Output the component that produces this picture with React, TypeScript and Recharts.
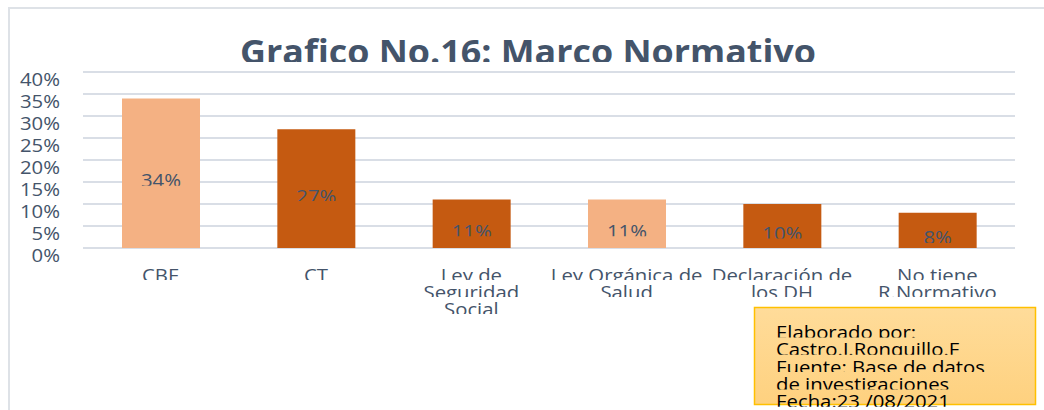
import React, { useId } from "react";
import { BarChart, Bar, XAxis, YAxis, CartesianGrid, Cell, LabelList } from "recharts";

const categories = [
	"CBE",
	"CT",
	"Ley de\nSeguridad\nSocial",
	"Ley Orgánica de\nSalud",
	"Declaración de\nlos DH",
	"No tiene\nR.Normativo",
];
const percentages = [34, 27, 11, 11, 10, 8];
const yTicks = [0, 5, 10, 15, 20, 25, 30, 35, 40];
const titleText = "Grafico No.16: Marco Normativo";
const noteLines = [
	"Elaborado por:",
	"Castro.J.Ronquillo.F",
	"Fuente: Base de datos",
	"de investigaciones",
	"Fecha:23 /08/2021",
];

const LIGHT = "#F4B183";
const DARK = "#C55A11";
const barColors = [LIGHT, DARK, DARK, LIGHT, DARK, DARK];
const TEXT = "#44546A";
const FONT = "'Open Sans', sans-serif";
const STRETCH = 1.13; // source text is a bit wider than Open Sans

const data = categories.map((name, i) => ({ name, value: percentages[i] }));

// text whose lower part is cut off just above the baseline, like the source image
const ClippedText: React.FC<{
	x: number;
	y: number;
	cut: number;
	anchor?: "start" | "middle" | "end";
	size: number;
	fill: string;
	weight?: number;
	sx?: number;
	children: React.ReactNode;
}> = ({ x, y, cut, anchor = "middle", size, fill, weight = 400, sx = STRETCH, children }) => {
	const id = useId().replace(/:/g, "");
	return (
		<g clipPath={`url(#c${id})`}>
			<defs>
				<clipPath id={`c${id}`}>
					<rect x={x - 600} y={y - size * 1.5} width={1200} height={size * 1.5 - cut} />
				</clipPath>
			</defs>
			<text
				transform={`translate(${x} ${y}) scale(${sx} 1)`}
				textAnchor={anchor}
				fontSize={size}
				fontWeight={weight}
				fill={fill}
				fontFamily={FONT}
			>
				{children}
			</text>
		</g>
	);
};

const XTick = (props: any) => {
	const { x, y, payload } = props;
	const lines = String(payload.value).split("\n");
	return (
		<g>
			{lines.map((line: string, i: number) => (
				<ClippedText key={i} x={x} y={y + 34 + i * 17} cut={2} size={18} fill={TEXT}>
					{line}
				</ClippedText>
			))}
		</g>
	);
};

const YTick = (props: any) => {
	const { y, payload } = props;
	return (
		<text
			transform={`translate(60 ${y + 14}) scale(${STRETCH} 1)`}
			textAnchor="end"
			fontSize={18}
			fill={TEXT}
			fontFamily={FONT}
		>
			{`${payload.value}%`}
		</text>
	);
};

const BarValue = (props: any) => {
	const { x, y, width, height, value } = props;
	const cx = Number(x) + Number(width) / 2;
	const base = Number(y) + Number(height) / 2 + 14;
	return (
		<ClippedText x={cx} y={base} cut={1.5} size={18} fill={TEXT}>
			{`${value}%`}
		</ClippedText>
	);
};

export default function App() {
	return (
		<div style={{ position: "absolute", left: 0, top: 0, width: 1044, height: 410, background: "#fff", overflow: "hidden" }}>
			<div
				style={{
					position: "absolute",
					left: 8,
					top: 7,
					width: 1040,
					height: 410,
					borderLeft: "2px solid #DEE2E7",
					borderTop: "2px solid #DEE2E7",
				}}
			/>
			<div style={{ position: "absolute", left: 0, top: 0 }}>
				<BarChart width={1044} height={410} data={data} margin={{ top: 72, right: 29, left: 0, bottom: 0 }}>
					<CartesianGrid vertical={false} stroke="#D9DEE6" strokeWidth={2} />
					<XAxis
						dataKey="name"
						axisLine={false}
						tickLine={false}
						tickSize={0}
						tickMargin={0}
						interval={0}
						height={162}
						tick={(p: any) => <XTick {...p} />}
					/>
					<YAxis
						domain={[0, 40]}
						ticks={yTicks}
						interval={0}
						axisLine={false}
						tickLine={false}
						width={83}
						tick={(p: any) => <YTick {...p} />}
					/>
					<Bar dataKey="value" barSize={78} isAnimationActive={false}>
						{data.map((_, i) => (
							<Cell key={`cell-${i}`} fill={barColors[i]} />
						))}
						<LabelList dataKey="value" content={(p: any) => <BarValue {...p} />} />
					</Bar>
				</BarChart>
			</div>
			<svg width={1044} height={410} style={{ position: "absolute", left: 0, top: 0, pointerEvents: "none" }}>
				<defs>
					<linearGradient id="noteFill" x1="0" y1="0" x2="0" y2="1">
						<stop offset="0%" stopColor="#FFDC9A" />
						<stop offset="100%" stopColor="#FED17F" />
					</linearGradient>
				</defs>
				<ClippedText x={528} y={64} cut={2} size={33.5} sx={1.07} weight={700} fill={TEXT}>
					{titleText}
				</ClippedText>
				<rect x={754.5} y={307.5} width={281} height={97} fill="url(#noteFill)" stroke="#FFC000" strokeWidth={1.5} />
				{noteLines.map((line, i) => (
					<ClippedText key={i} x={776} y={339 + i * 17.3} cut={1.5} anchor="start" size={18} fill="#000">
						{line}
					</ClippedText>
				))}
			</svg>
		</div>
	);
}
